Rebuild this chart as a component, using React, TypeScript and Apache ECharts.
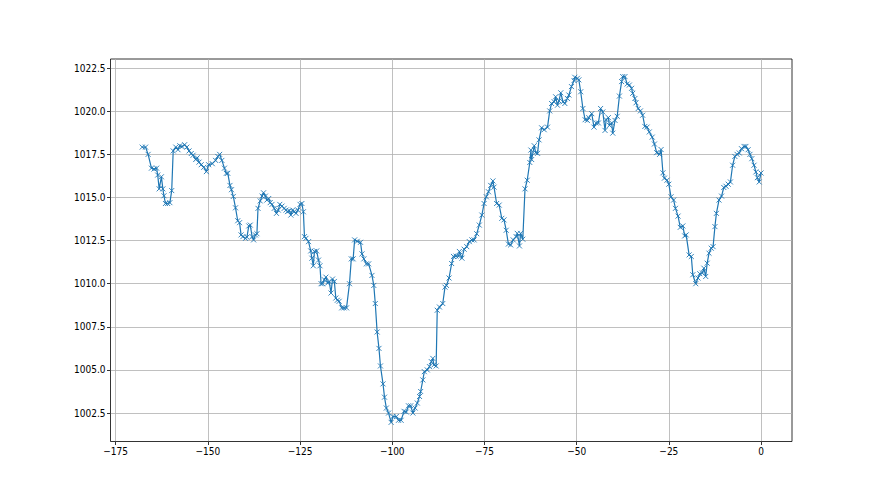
import React, { useEffect, useRef } from 'react';
import * as echarts from 'echarts';

const hours = [
  -167.8, -166.9, -166.2, -165.3, -164.6, -163.9, -163.6, -163.2, -162.6, -162.2,
  -161.9, -161.5, -160.9, -160.3, -159.8, -159.4, -158.7, -158.1, -157.6, -157.0,
  -156.3, -155.7, -155.1, -154.5, -154.0, -153.3, -152.9, -152.4, -151.8, -151.1,
  -150.4, -149.8, -148.8, -147.9, -147.3, -146.8, -146.2, -145.5, -145.0, -144.6,
  -144.0, -143.6, -143.1, -142.5, -141.9, -141.4, -141.0, -140.5, -139.8, -139.4,
  -138.9, -138.5, -138.0, -137.6, -137.1, -136.7, -136.4, -135.8, -135.3, -134.9,
  -134.4, -134.0, -133.5, -133.1, -132.6, -132.0, -131.4, -130.9, -130.5, -129.9,
  -129.3, -128.8, -128.4, -127.9, -127.5, -127.0, -126.6, -126.1, -125.6, -125.0,
  -124.5, -124.1, -123.8, -123.4, -122.7, -122.1, -121.8, -121.4, -121.1, -120.5,
  -120.0, -119.6, -119.3, -118.9, -118.4, -118.0, -117.5, -117.1, -116.6, -116.2,
  -115.7, -115.3, -114.9, -114.4, -113.7, -113.1, -112.4, -111.6, -111.1, -110.6,
  -110.2, -109.5, -108.6, -108.2, -107.7, -107.0, -106.4, -105.5, -105.0, -104.6,
  -104.1, -103.6, -103.2, -102.5, -102.1, -101.6, -101.0, -100.3, -99.8, -98.9,
  -98.3, -97.6, -96.8, -96.2, -95.6, -95.0, -94.4, -93.8, -93.2, -92.6,
  -92.3, -91.7, -91.3, -90.5, -89.9, -89.4, -89.0, -88.7, -88.1, -87.8,
  -87.2, -86.3, -85.7, -85.3, -84.6, -83.9, -83.4, -82.7, -82.0, -81.8,
  -81.1, -80.5, -79.8, -79.1, -78.4, -77.8, -77.1, -76.4, -75.7, -75.1,
  -74.5, -73.9, -73.3, -72.7, -72.4, -71.7, -71.0, -70.3, -69.7, -69.1,
  -68.5, -67.9, -67.2, -66.4, -66.1, -65.5, -65.2, -64.6, -64.0, -63.4,
  -62.7, -62.4, -62.2, -61.5, -61.1, -60.6, -60.2, -59.5, -58.8, -57.9,
  -57.3, -56.8, -56.1, -55.7, -55.2, -54.8, -54.3, -53.7, -53.2, -52.5,
  -52.1, -51.4, -50.7, -50.5, -49.8, -49.4, -48.9, -48.3, -47.7, -47.1,
  -46.7, -45.9, -45.3, -44.7, -44.1, -43.5, -42.9, -42.3, -42.0, -41.4,
  -41.1, -40.5, -40.2, -39.6, -39.0, -38.4, -37.8, -37.5, -36.9, -36.3,
  -35.7, -35.1, -34.8, -34.2, -33.9, -33.3, -32.7, -32.1, -31.5, -30.9,
  -30.3, -29.5, -28.9, -28.3, -27.5, -27.1, -26.6, -26.2, -25.5, -25.0,
  -24.4, -23.7, -23.2, -22.5, -21.9, -21.2, -20.7, -20.3, -19.5, -18.9,
  -18.5, -17.7, -17.1, -16.6, -15.9, -15.5, -15.0, -14.6, -14.1, -13.5,
  -13.0, -12.5, -12.1, -11.4, -10.7, -10.1, -9.5, -8.9, -8.3, -7.7,
  -7.1, -6.5, -5.9, -5.3, -4.6, -4.1, -3.5, -3.0, -2.5, -1.9,
  -1.4, -1.0, -0.5, 0.0,
];

const pressure = [
  1017.92, 1017.92, 1017.5, 1016.7, 1016.65, 1016.7, 1016.3, 1015.5, 1016.2, 1015.5,
  1015.1, 1014.65, 1014.65, 1014.7, 1015.4, 1017.7, 1017.92, 1017.77, 1018.0, 1017.95,
  1018.06, 1017.92, 1017.7, 1017.55, 1017.45, 1017.2, 1017.3, 1017.05, 1016.9, 1016.75,
  1016.5, 1016.9, 1016.96, 1017.15, 1017.38, 1017.5, 1017.15, 1016.7, 1016.4, 1016.4,
  1015.7, 1015.45, 1015.06, 1014.4, 1013.65, 1013.54, 1012.83, 1012.73, 1012.63, 1012.7,
  1013.35, 1013.4, 1012.73, 1012.54, 1012.83, 1012.9, 1014.37, 1014.8, 1015.08, 1015.27,
  1015.08, 1014.85, 1014.94, 1014.7, 1014.6, 1014.37, 1014.08, 1014.27, 1014.6, 1014.5,
  1014.37, 1014.27, 1014.18, 1014.23, 1013.98, 1014.27, 1014.18, 1014.08, 1014.27, 1014.6,
  1014.65, 1014.17, 1012.73, 1012.63, 1012.44, 1011.9, 1011.48, 1011.04, 1011.87, 1011.9,
  1011.37, 1011.04, 1010.0, 1010.0, 1010.23, 1010.38, 1010.04, 1010.13, 1009.46, 1010.27,
  1010.13, 1009.17, 1009.04, 1008.98, 1008.6, 1008.6, 1008.6, 1010.0, 1011.44, 1011.44,
  1012.54, 1012.46, 1012.4, 1011.73, 1011.44, 1011.15, 1011.15, 1010.48, 1009.9, 1008.85,
  1007.2, 1006.25, 1005.23, 1004.19, 1003.42, 1002.79, 1002.5, 1001.96, 1002.3, 1002.3,
  1002.08, 1002.08, 1002.6, 1002.56, 1002.92, 1002.92, 1002.5, 1002.79, 1003.08, 1003.46,
  1003.75, 1004.42, 1004.9, 1005.0, 1005.19, 1005.48, 1005.67, 1005.29, 1005.23, 1008.46,
  1008.65, 1008.85, 1009.8, 1009.9, 1010.33, 1011.17, 1011.58, 1011.6, 1011.6, 1011.87,
  1011.48, 1012.0, 1012.15, 1012.44, 1012.54, 1012.54, 1012.9, 1013.4, 1013.98, 1014.65,
  1015.04, 1015.33, 1015.7, 1015.96, 1015.6, 1014.65, 1014.56, 1013.79, 1013.7, 1013.1,
  1012.3, 1012.25, 1012.54, 1012.73, 1012.92, 1012.19, 1012.92, 1012.58, 1015.5, 1016.0,
  1017.03, 1017.75, 1017.2, 1018.0, 1017.6, 1017.56, 1018.34, 1019.04, 1018.93, 1019.08,
  1020.02, 1020.45, 1020.55, 1020.84, 1020.35, 1020.6, 1021.07, 1020.55, 1020.45, 1020.74,
  1020.94, 1021.43, 1021.78, 1021.97, 1021.91, 1021.82, 1021.13, 1020.16, 1019.51, 1019.47,
  1019.63, 1019.86, 1019.08, 1019.32, 1019.32, 1020.16, 1019.96, 1018.89, 1019.51, 1019.63,
  1019.18, 1019.32, 1018.73, 1019.47, 1019.71, 1020.88, 1021.72, 1022.01, 1022.01, 1021.58,
  1021.52, 1021.33, 1021.04, 1020.74, 1020.49, 1020.16, 1020.02, 1019.77, 1019.12, 1019.08,
  1018.8, 1018.5, 1018.1, 1017.6, 1017.5, 1017.78, 1016.43, 1016.12, 1016.0, 1015.77,
  1015.04, 1014.85, 1014.37, 1013.92, 1013.27, 1013.35, 1012.77, 1012.83, 1011.67, 1011.58,
  1010.52, 1010.0, 1010.33, 1010.58, 1010.62, 1010.9, 1010.42, 1011.19, 1011.77, 1012.06,
  1012.15, 1013.31, 1014.08, 1014.85, 1015.08, 1015.58, 1015.65, 1015.77, 1015.9, 1016.87,
  1017.38, 1017.5, 1017.58, 1017.83, 1017.96, 1017.96, 1017.77, 1017.5, 1017.25, 1016.87,
  1016.48, 1016.15, 1015.9, 1016.42,
];

const xTicks = [-175, -150, -125, -100, -75, -50, -25, 0];
const yTicks = [1002.5, 1005, 1007.5, 1010, 1012.5, 1015, 1017.5, 1020, 1022.5];

const FONT = "'Liberation Sans Narrow', 'DejaVu Sans Condensed', 'DejaVu Sans', sans-serif";

export default function App() {
  const ref = useRef<HTMLDivElement>(null);
  useEffect(() => {
    if (!ref.current) return;
    const chart = echarts.init(ref.current, null, { renderer: 'svg' });
    const data = hours.map((h, i) => [h, pressure[i]]);
    const axisCommon = {
      type: 'value' as const,
      axisLine: { show: false, onZero: false },
      splitLine: { show: true, lineStyle: { color: '#b0b0b0', width: 0.8 } },
    };
    chart.setOption({
      animation: false,
      backgroundColor: '#ffffff',
      grid: {
        left: 110.5,
        top: 59,
        width: 681.5,
        height: 382.5,
        show: true,
        borderColor: '#000000',
        borderWidth: 0.8,
        backgroundColor: 'transparent',
        containLabel: false,
      },
      xAxis: {
        ...axisCommon,
        min: -176.4,
        max: 8.4,
        axisTick: {
          show: true,
          customValues: xTicks,
          length: 3.5,
          inside: false,
          lineStyle: { color: '#000', width: 0.8 },
        },
        axisLabel: {
          customValues: xTicks,
          color: '#000',
          fontSize: 10,
          fontFamily: FONT,
          margin: 5,
          formatter: (v: number) => (v < 0 ? '\u2212' + Math.abs(v) : String(v)),
        },
      },
      yAxis: {
        ...axisCommon,
        min: 1000.85,
        max: 1023.03,
        axisTick: {
          show: true,
          customValues: yTicks,
          length: 3.5,
          inside: false,
          lineStyle: { color: '#000', width: 0.8 },
        },
        axisLabel: {
          customValues: yTicks,
          color: '#000',
          fontSize: 10,
          fontFamily: FONT,
          margin: 5,
          formatter: (v: number) => v.toFixed(1),
        },
      },
      series: [
        {
          type: 'line',
          data,
          silent: true,
          showAllSymbol: true,
          symbol: 'path://M0,0L10,10M10,0L0,10',
          symbolSize: 5,
          lineStyle: { color: '#1f77b4', width: 1.2 },
          itemStyle: { color: '#1f77b4', borderColor: '#1f77b4', borderWidth: 0.9 },
        },
      ],
    });
    return () => chart.dispose();
  }, []);
  return (
    <div
      ref={ref}
      style={{ position: 'absolute', left: 0, top: 0, width: 880, height: 495, background: '#fff' }}
    />
  );
}
